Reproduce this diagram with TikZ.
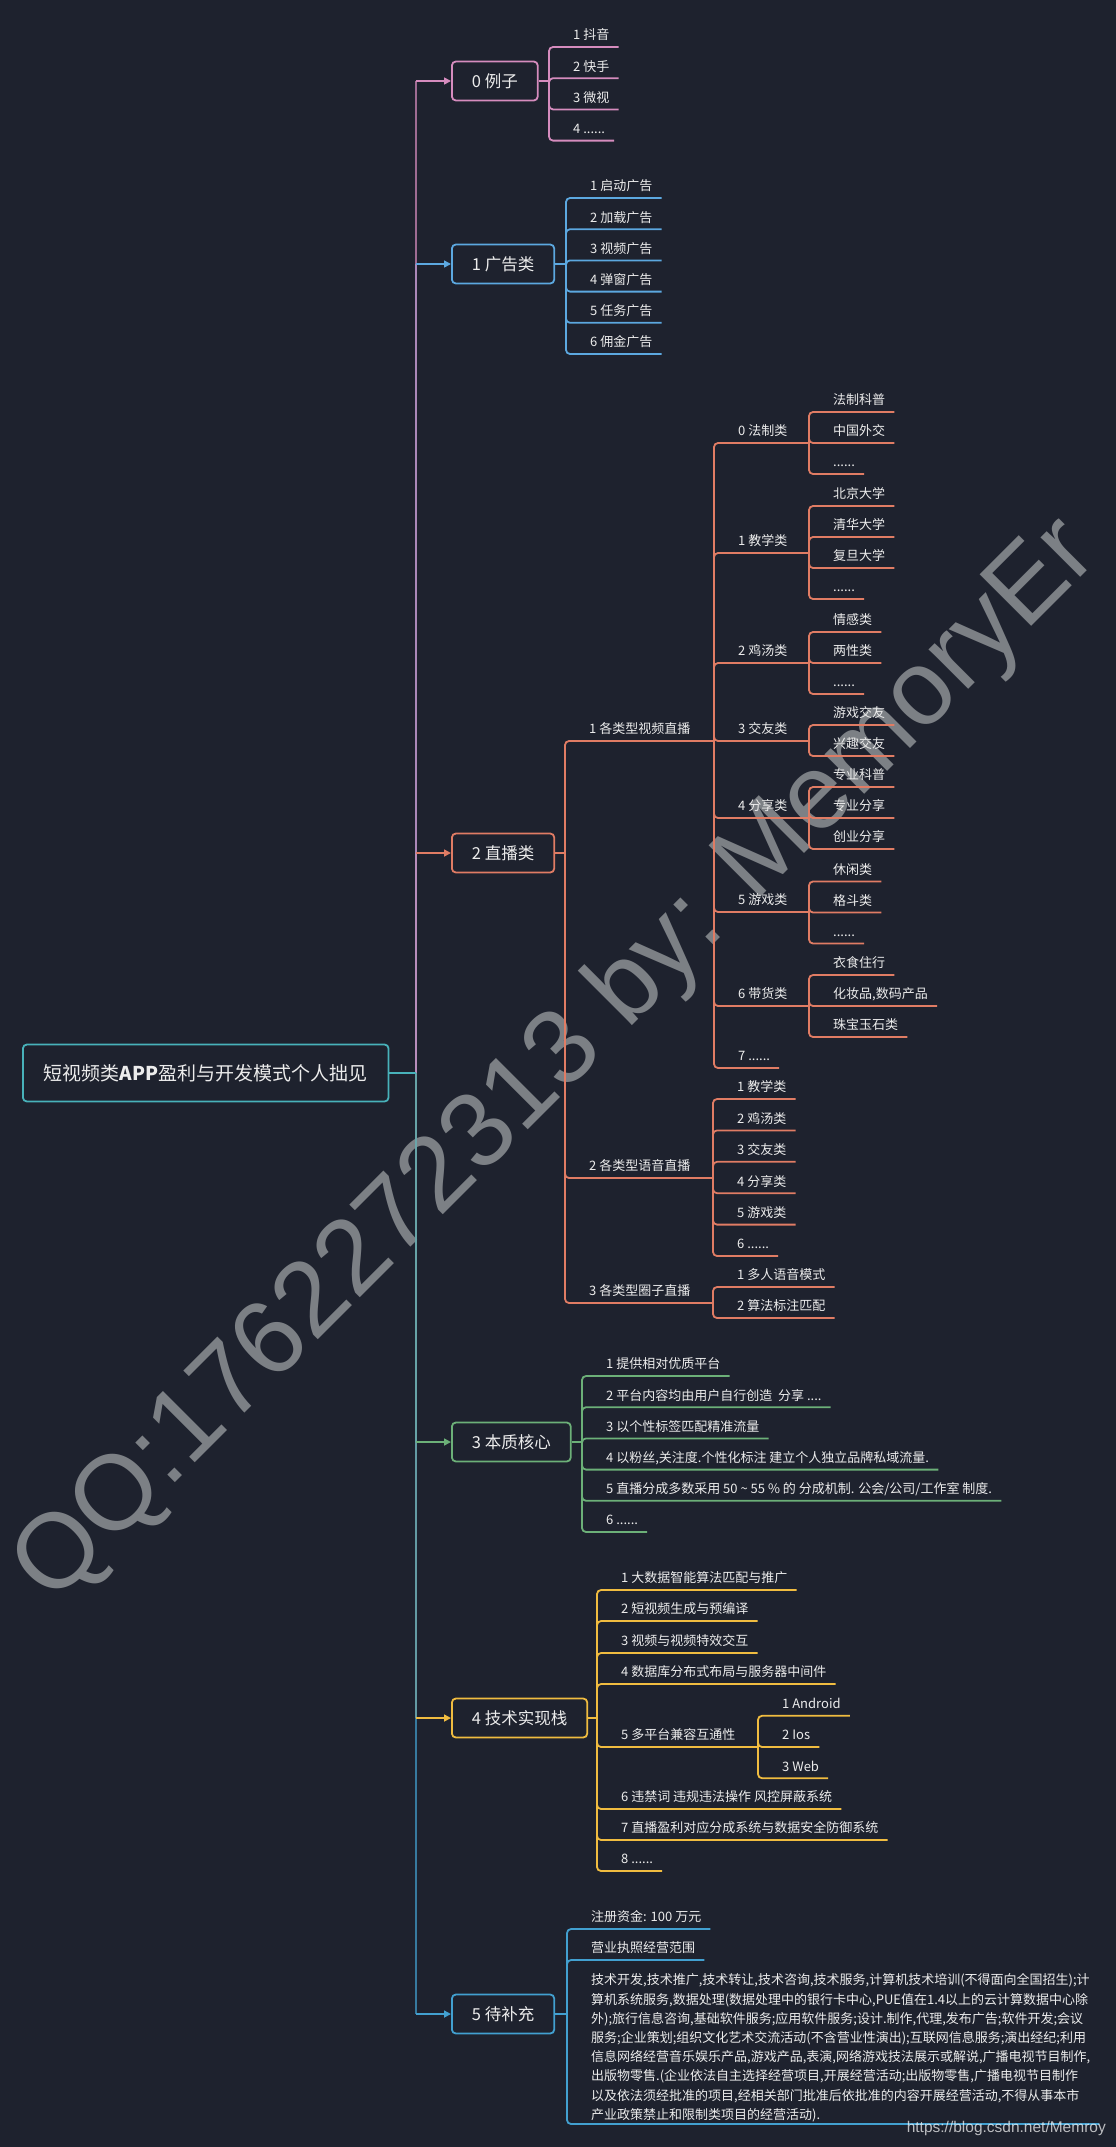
\documentclass[tikz,border=0pt]{standalone}
\usepackage{fontspec}
\setmainfont{Noto Sans CJK SC}
\newfontfamily\markfont{Liberation Sans}
\usetikzlibrary{arrows.meta}

\definecolor{bgc}{RGB}{30,34,46}
\definecolor{txtc}{RGB}{236,236,236}
\definecolor{tealc}{RGB}{72,178,186}
\definecolor{pinkc}{RGB}{214,140,190}
\definecolor{bluec}{RGB}{92,168,224}
\definecolor{orangec}{RGB}{224,124,100}
\definecolor{greenc}{RGB}{108,176,120}
\definecolor{yellowc}{RGB}{240,188,64}
\definecolor{skyc}{RGB}{66,160,208}
\definecolor{markc}{RGB}{124,128,133}
\newcommand{\sixdots}{......}
\newcommand{\fourdots}{....}

\begin{document}
\begin{tikzpicture}[x=1pt,y=-1pt,
  root/.style={draw=tealc,line width=1.8pt,rounded corners=4pt,fill=bgc,text=txtc,
    font=\fontsize{19}{21}\selectfont,minimum height=57pt,inner xsep=21pt,anchor=west},
  topic/.style={draw,line width=1.8pt,rounded corners=4pt,fill=bgc,text=txtc,
    font=\fontsize{16.5}{18}\selectfont,minimum height=39pt,inner xsep=20pt,anchor=west},
  leaf/.style={text=txtc,font=\fontsize{13}{15}\selectfont,anchor=south west,
    inner xsep=9pt,inner ysep=5pt,text height=11pt,text depth=2pt},
  para/.style={text=txtc,font=\fontsize{13}{19.2}\selectfont,anchor=south west,
    align=left,inner xsep=9pt,inner ysep=2pt},
  rib/.style={line width=1.8pt,rounded corners=4pt,#1},
  stem/.style={line width=1.6pt,draw opacity=0.7,#1},
  feed/.style={line width=1.6pt,#1,-{Triangle[length=7pt,width=7pt]}}]
\useasboundingbox (0,0) rectangle (1116,2147);
\fill[bgc] (0,0) rectangle (1116,2147);

% watermark behind the map
\node[font=\markfont\fontsize{106}{106}\selectfont,text=markc,rotate=45,
  anchor=base west,inner sep=0pt] (mark) at (52,1606) {QQ:1762272313 by: MemoryEr};

% root and main topics
\node[root] (root) at (22,1073) {短视频类\textbf{APP}盈利与开发模式个人拙见};
\coordinate (hub) at (416,1073);
\node[topic,draw=pinkc] (b0) at (451,81) {0 例子};
\node[topic,draw=bluec] (b1) at (451,264) {1 广告类};
\node[topic,draw=orangec] (b2) at (451,853) {2 直播类};
\node[topic,draw=greenc] (b3) at (451,1442) {3 本质核心};
\node[topic,draw=yellowc] (b4) at (451,1718) {4 技术实现栈};
\node[topic,draw=skyc] (b5) at (451,2014) {5 待补充};

\foreach \n/\c in {2/orangec,1/bluec,0/pinkc,3/greenc,4/yellowc,5/skyc}
  \draw[stem=\c] (hub) -- (hub |- b\n.west);
\foreach \n/\c in {0/pinkc,1/bluec,2/orangec,3/greenc,4/yellowc,5/skyc}
  \draw[feed=\c] (hub |- b\n.west) -- (b\n.west);
\draw[line width=1.6pt,tealc] (root.east) -- (hub);

% 0 examples
\coordinate (j0) at (549,81);
\draw[rib=pinkc] (b0.east) -- (j0);
\foreach \lbl [count=\i] in {1 抖音,2 快手,3 微视,4 \sixdots} {
  \node[leaf] (ex\i) at (564,15.8+31.2*\i) {\lbl};
  \draw[rib=pinkc] (j0) |- (ex\i.south east);
}

% 1 ads
\coordinate (j1) at (566,264);
\draw[rib=bluec] (b1.east) -- (j1);
\foreach \lbl [count=\i] in {1 启动广告,2 加载广告,3 视频广告,4 弹窗广告,5 任务广告,6 佣金广告} {
  \node[leaf] (ad\i) at (581,166.8+31.2*\i) {\lbl};
  \draw[rib=bluec] (j1) |- (ad\i.south east);
}

% 2 live
\coordinate (j2) at (565,853);
\draw[rib=orangec] (b2.east) -- (j2);
\node[leaf] (live1) at (580,741) {1 各类型视频直播};
\node[leaf] (live2) at (580,1178) {2 各类型语音直播};
\node[leaf] (live3) at (580,1303) {3 各类型圈子直播};
\coordinate (k1) at (714,741);
\coordinate (k2) at (713,1178);
\coordinate (k3) at (713,1303);
\foreach \n in {1,2,3}
  \draw[rib=orangec] (j2) |- (k\n);

\foreach \lbl/\y [count=\i from 0] in {0 法制类/443,1 教学类/553,2 鸡汤类/663,3 交友类/741,
    4 分享类/818,5 游戏类/912,6 带货类/1006} {
  \node[leaf] (cat\i) at (729,\y) {\lbl};
  \coordinate (m\i) at (809,\y);
  \draw[rib=orangec] (k1) |- (m\i);
}
\node[leaf] (cat7) at (729,1068) {7 \sixdots};
\draw[rib=orangec] (k1) |- (cat7.south east);

\foreach \lbl [count=\i] in {法制科普,中国外交,\sixdots} {
  \node[leaf] (law\i) at (824,381+31*\i) {\lbl};
  \draw[rib=orangec] (m0) |- (law\i.south east);
}
\foreach \lbl [count=\i] in {北京大学,清华大学,复旦大学,\sixdots} {
  \node[leaf] (edu\i) at (824,475+31*\i) {\lbl};
  \draw[rib=orangec] (m1) |- (edu\i.south east);
}
\foreach \lbl [count=\i] in {情感类,两性类,\sixdots} {
  \node[leaf] (soup\i) at (824,601+31*\i) {\lbl};
  \draw[rib=orangec] (m2) |- (soup\i.south east);
}
\foreach \lbl [count=\i] in {游戏交友,兴趣交友} {
  \node[leaf] (pal\i) at (824,694+31*\i) {\lbl};
  \draw[rib=orangec] (m3) |- (pal\i.south east);
}
\foreach \lbl [count=\i] in {专业科普,专业分享,创业分享} {
  \node[leaf] (share\i) at (824,756+31*\i) {\lbl};
  \draw[rib=orangec] (m4) |- (share\i.south east);
}
\foreach \lbl [count=\i] in {休闲类,格斗类,\sixdots} {
  \node[leaf] (game\i) at (824,850.5+31*\i) {\lbl};
  \draw[rib=orangec] (m5) |- (game\i.south east);
}
\foreach \lbl [count=\i] in {衣食住行,{化妆品,数码产品},珠宝玉石类} {
  \node[leaf] (shop\i) at (824,944+31*\i) {\lbl};
  \draw[rib=orangec] (m6) |- (shop\i.south east);
}

\foreach \lbl [count=\i] in {1 教学类,2 鸡汤类,3 交友类,4 分享类,5 游戏类,6 \sixdots} {
  \node[leaf] (voice\i) at (728,1067.6+31.4*\i) {\lbl};
  \draw[rib=orangec] (k2) |- (voice\i.south east);
}
\foreach \lbl [count=\i] in {1 多人语音模式,2 算法标注匹配} {
  \node[leaf] (ring\i) at (728,1256+31*\i) {\lbl};
  \draw[rib=orangec] (k3) |- (ring\i.south east);
}

% 3 core
\coordinate (j3) at (582,1442);
\draw[rib=greenc] (b3.east) -- (j3);
\foreach \lbl [count=\i] in {1 提供相对优质平台,2 平台内容均由用户自行创造\ \ 分享 \fourdots,
    3 以个性标签匹配精准流量,{4 以粉丝,关注度.个性化标注 建立个人独立品牌私域流量.},
    5 直播分成多数采用 50 \textasciitilde{} 55 \% 的 分成机制. 公会/公司/工作室 制度.,6 \sixdots} {
  \node[leaf] (core\i) at (597,1344.8+31.2*\i) {\lbl};
  \draw[rib=greenc] (j3) |- (core\i.south east);
}

% 4 tech stack
\coordinate (j4) at (597,1718);
\draw[rib=yellowc] (b4.east) -- (j4);
\foreach \n/\lbl/\y in {1/1 大数据智能算法匹配与推广/1590,2/2 短视频生成与预编译/1621,
    3/3 视频与视频特效交互/1653,4/4 数据库分布式布局与服务器中间件/1684,
    6/6 违禁词 违规违法操作 风控屏蔽系统/1809,7/7 直播盈利对应分成系统与数据安全防御系统/1840,
    8/8 \sixdots/1871} {
  \node[leaf] (tech\n) at (612,\y) {\lbl};
  \draw[rib=yellowc] (j4) |- (tech\n.south east);
}
\node[leaf] (tech5) at (612,1747) {5 多平台兼容互通性};
\coordinate (p5) at (758,1747);
\draw[rib=yellowc] (j4) |- (p5);
\foreach \lbl [count=\i] in {1 Android,2 Ios,3 Web} {
  \node[leaf] (os\i) at (773,1684.6+31.2*\i) {\lbl};
  \draw[rib=yellowc] (p5) |- (os\i.south east);
}

% 5 to be added
\coordinate (j5) at (567,2014);
\draw[rib=skyc] (b5.east) -- (j5);
\node[leaf] (fund) at (582,1929) {注册资金: 100 万元};
\node[leaf] (licence) at (582,1960) {营业执照经营范围};
\node[para] (scope) at (582,2124) {技术开发,技术推广,技术转让,技术咨询,技术服务,计算机技术培训(不得面向全国招生);计\\
算机系统服务,数据处理(数据处理中的银行卡中心,PUE值在1.4以上的云计算数据中心除\\
外);旅行信息咨询,基础软件服务;应用软件服务;设计.制作,代理,发布广告;软件开发;会议\\
服务;企业策划;组织文化艺术交流活动(不含营业性演出);互联网信息服务;演出经纪;利用\\
信息网络经营音乐娱乐产品,游戏产品,表演,网络游戏技法展示或解说,广播电视节目制作,\\
出版物零售.(企业依法自主选择经营项目,开展经营活动;出版物零售,广播电视节目制作\\
以及依法须经批准的项目,经相关部门批准后依批准的内容开展经营活动,不得从事本市\\
产业政策禁止和限制类项目的经营活动).};
\foreach \n in {fund,licence,scope}
  \draw[rib=skyc] (j5) |- (\n.south east);

% site stamp
\node[font=\markfont\fontsize{15.5}{16}\selectfont,text=white,opacity=0.7,
  anchor=east,inner sep=0pt] (blog) at (1106,2128) {https://blog.csdn.net/Memroy};
\end{tikzpicture}
\end{document}
